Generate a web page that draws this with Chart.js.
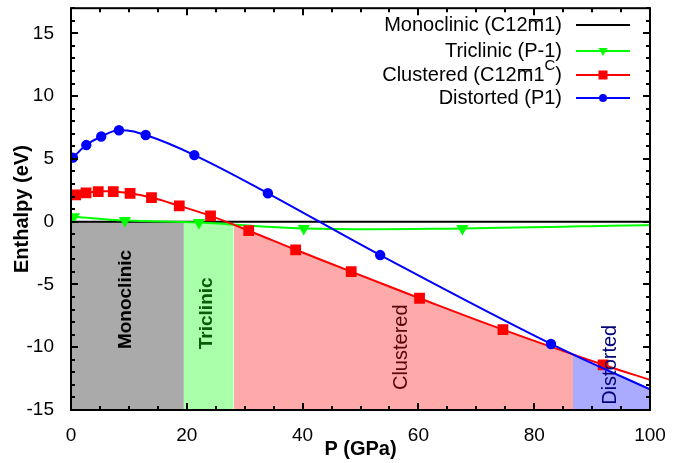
<!DOCTYPE html>
<html>
<head>
<meta charset="utf-8">
<script src="https://cdn.jsdelivr.net/npm/chart.js@4"></script>
<style>
  html, body { margin: 0; padding: 0; background: #fff; }
  #wrap { width: 690px; height: 463px; }
</style>
</head>
<body>
<div id="wrap"><canvas id="enthalpyChart"></canvas></div>
<script>
// datos
const monoP = [0, 100];
const monoH = [0, 0];
const triP = [0.5, 9.3, 22.1, 40.2, 67.6, 100];
const triH = [0.4, 0.1, -0.06, -0.54, -0.54, -0.26];
const cluP = [0.8, 2.6, 4.7, 7.3, 10.2, 13.9, 18.7, 24.1, 30.7, 38.8, 48.4, 60.2, 74.6, 91.9, 100];
const cluH = [2.14, 2.3, 2.4, 2.4, 2.26, 1.92, 1.26, 0.46, -0.72, -2.24, -3.98, -6.1, -8.6, -11.4, -12.6];
const disP = [0.34, 2.64, 5.22, 8.28, 12.9, 21.3, 34.0, 53.4, 82.9, 100];
const disH = [5.1, 6.1, 6.78, 7.28, 6.9, 5.3, 2.26, -2.66, -9.74, -13.36];

// limites de las fases (GPa)
const phaseEdges = [0, 19.5, 28.1, 86.7, 100];
const phaseNames = ['Monoclinic', 'Triclinic', 'Clustered', 'Distorted'];
const phaseLabelAt = [[9.5, -6.2], [23.5, -7.3], [57.1, -10], [93.1, -11.4]];

const xTicks = [0, 20, 40, 60, 80, 100];
const yTicks = [-15, -10, -5, 0, 5, 10, 15];

const FONT = "'Liberation Sans', Arial, sans-serif";
const toPts = (xs, ys) => xs.map((x, i) => ({ x: x, y: ys[i] }));
const lastNoMarker = (r) => (ctx) => ctx.dataIndex === ctx.dataset.data.length - 1 ? 0 : r;

// relleno recortado a un rango de presion con un degradado duro
function bandFill(from, to, color) {
    return function(ctx) {
        const chart = ctx.chart;
        const area = chart.chartArea;
        if (!area) return color;
        const xs = chart.scales.x;
        const w = area.right - area.left;
        const f1 = Math.max(0, Math.min(1, (xs.getPixelForValue(from) - area.left) / w));
        const f2 = Math.max(0, Math.min(1, (xs.getPixelForValue(to) - area.left) / w));
        const g = chart.ctx.createLinearGradient(area.left, 0, area.right, 0);
        g.addColorStop(0, 'rgba(0,0,0,0)');
        g.addColorStop(f1, 'rgba(0,0,0,0)');
        g.addColorStop(f1, color);
        g.addColorStop(f2, color);
        g.addColorStop(f2, 'rgba(0,0,0,0)');
        g.addColorStop(1, 'rgba(0,0,0,0)');
        return g;
    };
}

const regionBase = { borderWidth: 0, pointRadius: 0, fill: { value: -15 }, order: 10 };

const datasets = [
    Object.assign({ label: 'r1', data: toPts([phaseEdges[0], phaseEdges[1]], [0, 0]), backgroundColor: '#aaaaaa' }, regionBase),
    Object.assign({ label: 'r2', data: toPts([phaseEdges[1], phaseEdges[2]], [0, 0]), backgroundColor: '#aaffaa' }, regionBase),
    Object.assign({ label: 'r3', data: toPts(cluP, cluH), backgroundColor: bandFill(phaseEdges[2], phaseEdges[3], '#ffaaaa') }, regionBase),
    Object.assign({ label: 'r4', data: toPts(disP, disH), backgroundColor: bandFill(phaseEdges[3], phaseEdges[4], '#aaaaff') }, regionBase),
    { label: 'Monoclinic', data: toPts(monoP, monoH), borderColor: '#000', borderWidth: 2, pointRadius: 0, order: 4 },
    { label: 'Triclinic', data: toPts(triP, triH), borderColor: '#00ff00', backgroundColor: '#00ff00', borderWidth: 2,
      pointStyle: 'triangle', rotation: 180, pointRadius: lastNoMarker(5), order: 3 },
    { label: 'Clustered', data: toPts(cluP, cluH), borderColor: '#ff0000', backgroundColor: '#ff0000', borderWidth: 2,
      pointStyle: 'rect', pointRadius: lastNoMarker(6.2), order: 2 },
    { label: 'Distorted', data: toPts(disP, disH), borderColor: '#0000ff', backgroundColor: '#0000ff', borderWidth: 2,
      pointStyle: 'circle', pointRadius: lastNoMarker(4.2), order: 1 }
];

// dibuja una cadena en trozos, alineada a la derecha; [texto, tamaño, desplazamiento vertical, sobrerrayado]
function drawPieces(ctx, pieces, right, y) {
    let total = 0;
    pieces.forEach(p => { ctx.font = p[1] + 'px ' + FONT; total += ctx.measureText(p[0]).width; });
    let x = right - total;
    ctx.textAlign = 'left';
    pieces.forEach(p => {
        ctx.font = p[1] + 'px ' + FONT;
        const w = ctx.measureText(p[0]).width;
        ctx.fillText(p[0], x, y + p[2]);
        if (p[3]) {
            ctx.fillRect(x + 1.5, y - 6, w - 3, 1.5);
        }
        x += w;
    });
}

// marco, ticks hacia dentro, etiquetas de fase y leyenda
const decorPlugin = {
    id: 'decor',
    afterDatasetsDraw(chart) {
        const ctx = chart.ctx, xs = chart.scales.x, ys = chart.scales.y;
        const colors = ['#000000', '#0a5a0a', '#5a0505', '#00007a'];
        const fonts = ['bold 19px ', 'bold 19px ', '20px ', '20px '];
        ctx.save();
        phaseNames.forEach((name, i) => {
            ctx.save();
            ctx.translate(xs.getPixelForValue(phaseLabelAt[i][0]), ys.getPixelForValue(phaseLabelAt[i][1]));
            ctx.rotate(-Math.PI / 2);
            ctx.font = fonts[i] + FONT;
            ctx.fillStyle = colors[i];
            ctx.textAlign = 'center';
            ctx.textBaseline = 'middle';
            ctx.fillText(name, 0, 0);
            ctx.restore();
        });
        ctx.restore();
    },
    afterDraw(chart) {
        const ctx = chart.ctx, xs = chart.scales.x, ys = chart.scales.y;
        const a = chart.chartArea;
        ctx.save();
        ctx.strokeStyle = '#000';
        ctx.lineWidth = 2;
        ctx.beginPath();
        for (let p = 0; p <= 100; p += 5) {
            const px = Math.round(xs.getPixelForValue(p));
            const len = p % 20 === 0 ? 7 : 4;
            ctx.moveTo(px, a.bottom); ctx.lineTo(px, a.bottom - len);
            ctx.moveTo(px, a.top); ctx.lineTo(px, a.top + len);
        }
        for (let e = -15; e <= 17; e += 1) {
            const py = Math.round(ys.getPixelForValue(e));
            const len = e % 5 === 0 ? 7 : 4;
            ctx.moveTo(a.left, py); ctx.lineTo(a.left + len, py);
            ctx.moveTo(a.right, py); ctx.lineTo(a.right - len, py);
        }
        ctx.stroke();
        ctx.strokeRect(a.left, a.top, a.right - a.left, a.bottom - a.top);

        // leyenda
        const textRight = 562, lineL = 576, lineR = 630, mk = 603;
        const rows = [25, 51, 75, 98];
        const cols = ['#000000', '#00ff00', '#ff0000', '#0000ff'];
        ctx.fillStyle = '#000';
        ctx.textBaseline = 'middle';
        drawPieces(ctx, [['Monoclinic (C12', 20, 0], ['m', 20, 0, true], ['1)', 20, 0]], textRight, rows[0]);
        drawPieces(ctx, [['Triclinic (P-1)', 20, 0]], textRight, rows[1]);
        drawPieces(ctx, [['Clustered (C12', 20, 0], ['m', 20, 0, true], ['1', 20, 0], ['C', 15, -9], [')', 20, 0]], textRight, rows[2]);
        drawPieces(ctx, [['Distorted (P1)', 20, 0]], textRight, rows[3]);

        rows.forEach((y, i) => {
            ctx.strokeStyle = cols[i];
            ctx.fillStyle = cols[i];
            ctx.lineWidth = 2;
            ctx.beginPath();
            ctx.moveTo(lineL, y); ctx.lineTo(lineR, y);
            ctx.stroke();
            ctx.beginPath();
            if (i === 1) {
                ctx.moveTo(mk - 4.5, y - 3); ctx.lineTo(mk + 4.5, y - 3); ctx.lineTo(mk, y + 5);
                ctx.closePath(); ctx.fill();
            } else if (i === 2) {
                ctx.fillRect(mk - 4.5, y - 4.5, 9, 9);
            } else if (i === 3) {
                ctx.arc(mk, y, 4, 0, Math.PI * 2); ctx.fill();
            }
        });
        ctx.restore();
    }
};

document.addEventListener('DOMContentLoaded', function() {
    new Chart(document.getElementById('enthalpyChart'), {
        type: 'line',
        data: { datasets: datasets },
        options: {
            responsive: true,
            maintainAspectRatio: false,
            animation: false,
            layout: { padding: { top: 8, right: 40, left: 0, bottom: 0 } },
            elements: { line: { tension: 0.4 } },
            plugins: { legend: { display: false }, tooltip: { enabled: false } },
            scales: {
                x: {
                    type: 'linear', min: 0, max: 100,
                    afterFit: (s) => { s.height = 53; s.paddingLeft = 0; s.paddingRight = 0; },
                    afterBuildTicks: (s) => { s.ticks = xTicks.map(v => ({ value: v })); },
                    grid: { display: false }, border: { display: false },
                    ticks: { padding: 6, color: '#000', font: { family: FONT, size: 19 } },
                    title: { display: true, text: 'P (GPa)', color: '#000', padding: { top: 0, bottom: 2 },
                             font: { family: FONT, size: 20, weight: 'bold' } }
                },
                y: {
                    type: 'linear', min: -15, max: 17,
                    afterFit: (s) => { s.width = 71; s.paddingTop = 0; s.paddingBottom = 0; },
                    afterBuildTicks: (s) => { s.ticks = yTicks.map(v => ({ value: v })); },
                    grid: { display: false }, border: { display: false },
                    ticks: { padding: 9, color: '#000', font: { family: FONT, size: 19 } },
                    title: { display: true, text: 'Enthalpy (eV)', color: '#000', padding: { top: 10, bottom: 0 },
                             font: { family: FONT, size: 20, weight: 'bold' } }
                }
            }
        },
        plugins: [decorPlugin]
    });
});
</script>
</body>
</html>
